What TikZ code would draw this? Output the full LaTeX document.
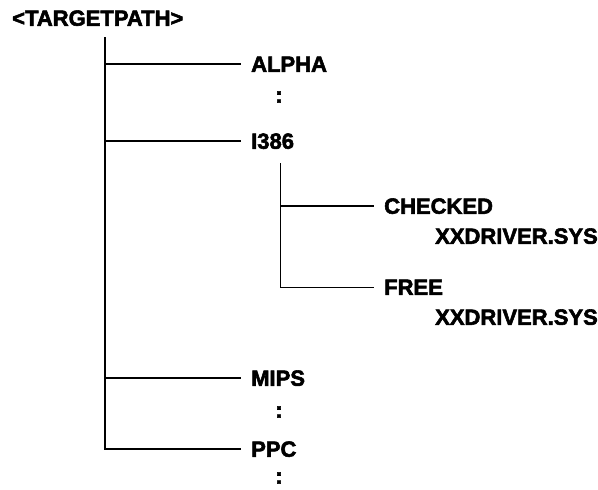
\documentclass[tikz,border=0pt]{standalone}
\usepackage{fontspec}
\newfontfamily\dirfont[FakeBold=2.5]{Liberation Sans}
\usepackage{tikz}

\begin{document}
\begin{tikzpicture}[x=1pt,y=-1pt,
    dir/.style={anchor=west,inner xsep=10pt,inner ysep=0pt,text height=15.5pt,text depth=0pt,
                font=\dirfont\bfseries\fontsize{22}{26}\selectfont},
    dots/.style={inner sep=0pt,font=\dirfont\bfseries\fontsize{22}{26}\selectfont},
    trunk/.style={line width=2pt},
    twig/.style={line width=1pt}]
  \useasboundingbox (0,0) rectangle (598,490);
  \node[dir] (targetpath) at (2,18) {<TARGETPATH>};
  \coordinate (trunktop) at (105,37);
  % first level
  \node[dir] (alpha) at (241,64)  {ALPHA};
  \node[dots] (alphadots) at (279,97) {:};
  \node[dir] (i386)  at (241,141) {I386};
  \node[dir] (mips)  at (241,378) {MIPS};
  \node[dots] (mipsdots) at (279,412) {:};
  \node[dir] (ppc)   at (241,449) {PPC};
  \node[dots] (ppcdots) at (279,478) {:};
  \draw[trunk] (trunktop) |- (ppc.west);
  \foreach \n in {alpha,i386,mips}
    \draw[trunk] (trunktop |- \n.west) -- (\n.west);
  % second level under I386
  \coordinate (subtop) at (280,163);
  \node[dir] (checked) at (374,206) {CHECKED};
  \node[dir] (checkeddrv) at (425,236) {XXDRIVER.SYS};
  \node[dir] (free) at (374,287) {FREE};
  \node[dir] (freedrv) at (425,317) {XXDRIVER.SYS};
  \draw[twig] (subtop) |- (free.west);
  \draw[twig,line width=1.6pt] (subtop |- checked.west) -- (checked.west);
\end{tikzpicture}
\end{document}
